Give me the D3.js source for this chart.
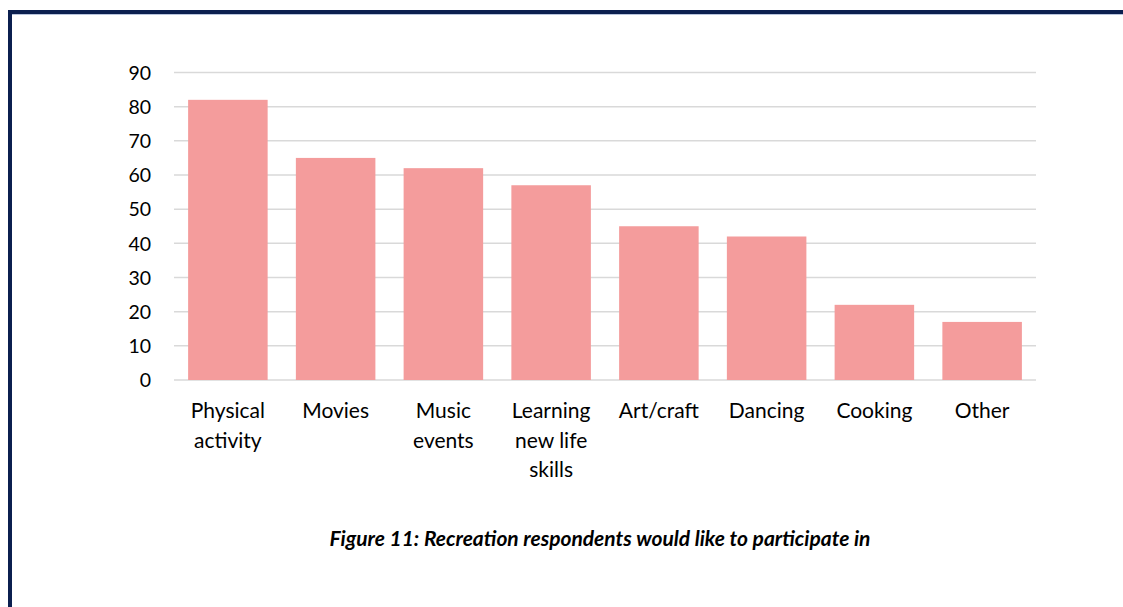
<!DOCTYPE html>
<html>
<head>
<meta charset="utf-8">
<script src="https://cdn.jsdelivr.net/npm/d3@7"></script>
<style>
  html, body { margin: 0; padding: 0; background: #fff; }
  svg { display: block; }
  text { font-family: Lato, "Open Sans", sans-serif; fill: #000; }
</style>
</head>
<body>
<svg id="chart" width="1123" height="607"></svg>
<script>
const categories = [["Physical", "activity"], ["Movies"], ["Music", "events"], ["Learning", "new life", "skills"], ["Art/craft"], ["Dancing"], ["Cooking"], ["Other"]];
const values = [82, 65, 62, 57, 45, 42, 22, 17];
const yTicks = [0, 10, 20, 30, 40, 50, 60, 70, 80, 90];
const caption = "Figure 11: Recreation respondents would like to participate in";

const svg = d3.select("#chart");
const W = 1123, H = 607;

// frame
svg.append("rect").attr("x", 8).attr("y", 10).attr("width", W).attr("height", 4).attr("fill", "#0b1f4f");
svg.append("rect").attr("x", 12).attr("y", 14).attr("width", W).attr("height", 1).attr("fill", "#b8c4dc");
svg.append("rect").attr("x", 8).attr("y", 10).attr("width", 4).attr("height", H).attr("fill", "#0b1f4f");

const x0 = 174, x1 = 1036, yTop = 72.5, yBot = 380;
const x = d3.scaleBand().domain(d3.range(values.length)).range([x0, x1]).paddingInner(0.262).paddingOuter(0.131);
const y = d3.scaleLinear().domain([0, 90]).range([yBot, yTop]);

// gridlines
svg.append("g").selectAll("line").data(yTicks).join("line")
  .attr("x1", x0).attr("x2", x1)
  .attr("y1", d => y(d)).attr("y2", d => y(d))
  .attr("stroke", "#d9d9d9").attr("stroke-width", 1.5);

// y axis labels
const yAxis = d3.axisLeft(y).tickValues(yTicks).tickSize(0).tickPadding(0);
const ya = svg.append("g").attr("transform", `translate(${151},0)`).call(yAxis);
ya.select(".domain").remove();
ya.selectAll("text").attr("font-size", 19.5).attr("font-family", "Lato, sans-serif").attr("fill", "#000").attr("dy", "0.35em");

// bars
svg.append("g").selectAll("rect").data(values).join("rect")
  .attr("x", (d, i) => x(i)).attr("width", x.bandwidth())
  .attr("y", d => y(d)).attr("height", d => y(0) - y(d))
  .attr("fill", "#f49c9c");

// x labels
const xl = svg.append("g").selectAll("text").data(categories).join("text")
  .attr("text-anchor", "middle")
  .attr("font-size", 21)
  .attr("x", (d, i) => x(i) + x.bandwidth() / 2)
  .attr("y", 418);
xl.selectAll("tspan").data(d => d).join("tspan")
  .attr("x", function() { return d3.select(this.parentNode).attr("x"); })
  .attr("dy", (d, i) => i === 0 ? 0 : 29.5)
  .text(d => d);

// caption, sized to span the reference width
const cap = svg.append("text").attr("x", 600).attr("y", 546).attr("text-anchor", "middle")
  .attr("font-size", 16).attr("font-weight", "bold").attr("font-style", "italic")
  .text(caption);
const w = cap.node().getComputedTextLength();
cap.attr("font-size", 16 * 541 / w);
</script>
</body>
</html>
